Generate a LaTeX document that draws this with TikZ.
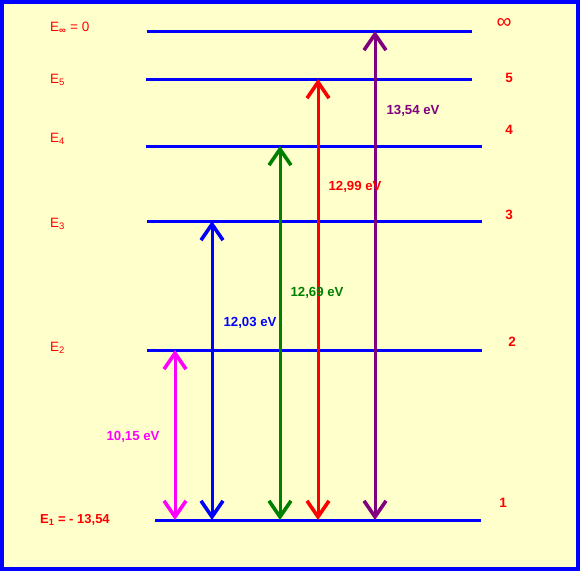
\documentclass[tikz,border=0pt]{standalone}
\usepackage{fontspec}
\setmainfont{Liberation Sans}
\usetikzlibrary{arrows.meta}
\definecolor{paper}{RGB}{255,255,204}
\definecolor{lvlblue}{RGB}{0,0,255}
\definecolor{lblred}{RGB}{255,0,0}
\definecolor{trmag}{RGB}{255,0,255}
\definecolor{trblue}{RGB}{0,0,255}
\definecolor{trgreen}{RGB}{0,128,0}
\definecolor{trred}{RGB}{255,0,0}
\definecolor{trpurple}{RGB}{128,0,128}

\begin{document}
\begin{tikzpicture}[x=1pt,y=-1pt,
    level/.style={lvlblue,line width=3pt},
    trans/.style={line width=3pt,{Straight Barb[length=16pt,width=22pt,line width=3.6pt]}-{Straight Barb[length=16pt,width=22pt,line width=3.6pt]}},
    elab/.style={text=lblred,font=\fontsize{13.5}{15}\selectfont,anchor=west,inner sep=0pt},
    nlab/.style={text=lblred,font=\bfseries\fontsize{13.5}{15}\selectfont,inner sep=0pt},
    evlab/.style={font=\bfseries\fontsize{13.2}{15}\selectfont,inner sep=0pt}]
    \fill[paper] (0,0) rectangle (580,571);
    \draw[lvlblue,line width=4pt] (2,2) rectangle (578,569);
    % energy levels
    \draw[level] (147,31)--(472,31);
    \draw[level] (146,79)--(472,79);
    \draw[level] (146,146)--(482,146);
    \draw[level] (147,221)--(482,221);
    \draw[level] (147,350)--(482,350);
    \draw[level] (155,520)--(481,520);
    % level names
    \node[elab] (einf) at (50,28) {E\textsubscript{\bfseries ∞} = 0};
    \node[elab] (e5) at (50,80) {E\textsubscript{5}};
    \node[elab] (e4) at (50,139) {E\textsubscript{4}};
    \node[elab] (e3) at (50,224) {E\textsubscript{3}};
    \node[elab] (e2) at (50,348) {E\textsubscript{2}};
    \node[elab,font=\bfseries\fontsize{13}{15}\selectfont] (e1) at (40,520) {E\textsubscript{1} = - 13,54};
    \node[nlab,font=\fontsize{21}{21}\selectfont] (ninf) at (504,23) {∞};
    \node[nlab] (n5) at (509,78) {5};
    \node[nlab] (n4) at (509,130) {4};
    \node[nlab] (n3) at (509,215) {3};
    \node[nlab] (n2) at (512,342) {2};
    \node[nlab] (n1) at (503,503) {1};
    % transitions from the ground level
    \foreach \x/\yt/\c/\n in {175/350/trmag/2,212/221/trblue/3,280/146/trgreen/4,318/79/trred/5,375/31/trpurple/inf}{
      \coordinate (lo\n) at (\x,520);
      \coordinate (hi\n) at (\x,\yt);
      \draw[trans,\c] (lo\n)--(hi\n);
    }
    \node[evlab,text=trmag] (ev2) at (133,437) {10,15 eV};
    \node[evlab,text=trblue] (ev3) at (250,323) {12,03 eV};
    \node[evlab,text=trgreen] (ev4) at (317,293) {12,69 eV};
    \node[evlab,text=trred] (ev5) at (355,187) {12,99 eV};
    \node[evlab,text=trpurple] (evinf) at (413,111) {13,54 eV};
\end{tikzpicture}
\end{document}
